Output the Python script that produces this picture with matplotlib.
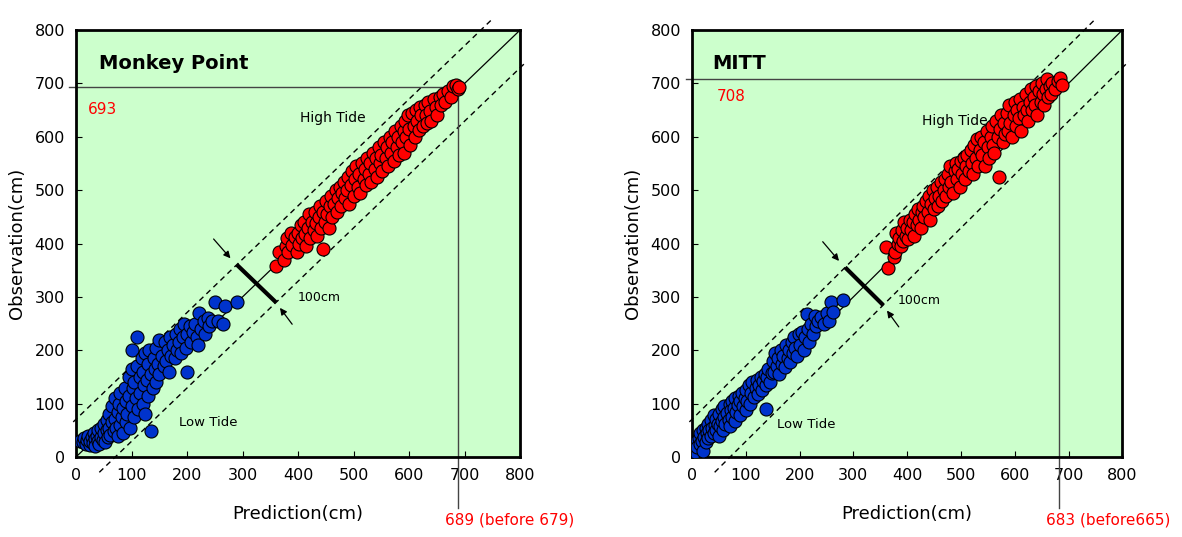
import matplotlib
matplotlib.use("Agg")
import matplotlib.pyplot as plt

# Monkey Point: (prediction, observation) in cm
mp_low_pred = [8, 12, 15, 18, 20, 22, 25, 25, 28, 30, 32, 35, 35, 38, 40, 40, 42, 45, 45, 48,
               50, 50, 52, 55, 55, 58, 60, 60, 62, 65, 65, 68, 70, 70, 72, 75, 75, 78, 80, 80,
               82, 85, 85, 88, 90, 90, 92, 95, 95, 98, 100, 100, 100, 102, 105, 105, 108, 110, 110, 112,
               115, 115, 118, 120, 120, 122, 125, 125, 128, 130, 130, 132, 135, 135, 138, 140, 142, 145, 145, 148,
               150, 150, 155, 158, 160, 162, 165, 168, 170, 172, 175, 178, 180, 182, 185, 188, 190, 192, 195, 198,
               200, 200, 205, 208, 210, 215, 218, 220, 222, 225, 230, 232, 238, 240, 245, 250, 255, 265, 268, 290]
mp_low_obs = [30, 28, 35, 25, 32, 40, 22, 30, 38, 27, 45, 33, 20, 40, 30, 50, 25, 38, 55, 32,
              45, 62, 28, 50, 70, 38, 55, 80, 42, 65, 95, 48, 72, 110, 55, 85, 40, 100, 60, 120,
              75, 92, 45, 130, 65, 105, 80, 150, 115, 55, 95, 200, 165, 130, 75, 140, 110, 225, 170, 90,
              150, 120, 185, 100, 160, 135, 195, 80, 145, 175, 115, 200, 48, 155, 130, 185, 165, 205, 140, 175,
              220, 155, 190, 170, 215, 180, 200, 160, 225, 190, 210, 185, 230, 200, 215, 240, 195, 225, 250, 205,
              230, 160, 245, 215, 235, 250, 225, 210, 270, 240, 255, 230, 260, 245, 255, 290, 255, 250, 282, 290]

mp_high_pred = [360, 365, 375, 378, 380, 382, 388, 390, 395, 398, 400, 402, 405, 408, 410, 412, 415, 418, 420, 422,
                425, 428, 430, 432, 435, 438, 440, 442, 445, 445, 448, 450, 452, 455, 458, 460, 462, 465, 468, 470,
                472, 475, 478, 480, 482, 485, 488, 490, 492, 495, 498, 500, 502, 505, 508, 510, 512, 515, 518, 520,
                522, 525, 528, 530, 532, 535, 538, 540, 542, 545, 548, 550, 552, 555, 558, 560, 562, 565, 568, 570,
                572, 575, 578, 580, 582, 585, 588, 590, 590, 592, 595, 598, 600, 602, 605, 608, 610, 612, 615, 618,
                620, 622, 625, 628, 630, 632, 635, 638, 640, 645, 648, 650, 655, 658, 662, 665, 670, 675, 680, 685,
                688, 690]
mp_high_obs = [358, 385, 370, 395, 410, 385, 420, 398, 412, 385, 420, 400, 435, 410, 440, 418, 395, 430, 455, 410,
               440, 425, 460, 438, 415, 450, 470, 430, 390, 460, 440, 480, 455, 430, 470, 490, 450, 475, 500, 460,
               485, 505, 470, 495, 515, 485, 500, 525, 475, 510, 535, 490, 520, 545, 505, 530, 495, 550, 520, 540,
               510, 560, 530, 550, 515, 570, 540, 560, 525, 580, 550, 565, 535, 590, 560, 580, 545, 600, 570, 590,
               555, 610, 580, 600, 565, 620, 590, 570, 610, 630, 600, 640, 615, 585, 645, 620, 600, 650, 630, 612,
               655, 640, 620, 660, 640, 625, 665, 648, 630, 670, 655, 640, 675, 660, 680, 665, 685, 675, 695, 698,
               690, 694]

# MITT: (prediction, observation) in cm
mt_low_pred = [3, 5, 8, 10, 12, 15, 15, 18, 20, 20, 22, 25, 25, 28, 30, 30, 32, 35, 35, 38,
               40, 40, 42, 45, 45, 48, 50, 50, 52, 55, 55, 58, 60, 60, 62, 65, 68, 70, 70, 72,
               75, 75, 78, 80, 80, 82, 85, 88, 90, 90, 92, 95, 98, 100, 100, 102, 105, 108, 110, 112,
               115, 118, 120, 122, 125, 128, 130, 132, 135, 138, 138, 140, 142, 145, 148, 150, 152, 155, 158, 160,
               162, 165, 168, 170, 172, 175, 178, 180, 182, 185, 188, 190, 192, 195, 198, 200, 205, 208, 210, 213,
               215, 218, 222, 225, 228, 230, 235, 240, 245, 250, 255, 258, 262, 280]
mt_low_obs = [20, 10, 28, 18, 35, 25, 45, 30, 12, 50, 38, 55, 28, 45, 62, 35, 50, 40, 70, 55,
              45, 78, 60, 50, 72, 62, 40, 80, 58, 68, 90, 50, 75, 95, 62, 82, 70, 100, 58, 88,
              75, 105, 92, 68, 110, 85, 98, 115, 78, 105, 120, 95, 110, 125, 88, 105, 135, 100, 120, 140,
              112, 130, 145, 118, 135, 150, 125, 142, 155, 90, 135, 150, 165, 140, 158, 180, 160, 195, 170, 185,
              155, 200, 175, 190, 168, 210, 185, 200, 178, 215, 195, 225, 205, 190, 230, 210, 235, 200, 225, 268,
              240, 215, 250, 230, 265, 245, 255, 262, 250, 270, 255, 290, 272, 295]

mt_high_pred = [360, 365, 375, 378, 380, 382, 385, 388, 390, 392, 395, 398, 400, 402, 405, 408, 410, 412, 415, 418,
                420, 422, 425, 428, 430, 432, 435, 438, 440, 442, 445, 448, 450, 452, 455, 458, 460, 462, 465, 468,
                470, 472, 475, 478, 480, 482, 485, 488, 490, 492, 495, 498, 500, 502, 505, 508, 510, 512, 515, 518,
                520, 522, 525, 528, 530, 532, 535, 538, 540, 542, 545, 548, 550, 552, 555, 558, 560, 562, 565, 568,
                570, 572, 575, 578, 580, 582, 585, 588, 590, 592, 595, 598, 600, 602, 605, 608, 610, 612, 615, 618,
                620, 622, 625, 628, 630, 632, 635, 638, 640, 642, 645, 648, 650, 652, 655, 658, 660, 662, 665, 668,
                670, 675, 680, 685, 688]
mt_high_obs = [393, 355, 375, 385, 420, 400, 410, 395, 425, 405, 440, 415, 430, 408, 445, 425, 440, 415, 455, 435,
               465, 445, 430, 460, 470, 450, 480, 460, 490, 445, 475, 500, 465, 485, 505, 470, 490, 515, 480, 500,
               520, 490, 530, 505, 545, 515, 495, 535, 550, 520, 540, 505, 555, 530, 560, 520, 545, 565, 535, 575,
               550, 530, 585, 560, 595, 545, 575, 600, 565, 590, 545, 610, 580, 560, 600, 620, 585, 570, 630, 600,
               525, 615, 640, 590, 625, 605, 645, 610, 660, 625, 600, 640, 665, 620, 650, 635, 670, 610, 655, 640,
               680, 650, 630, 665, 690, 650, 675, 660, 695, 640, 685, 665, 700, 680, 660, 690, 708, 675, 695, 680,
               700, 690, 705, 710, 698]

LOW_COLOR = "#0033CC"
HIGH_COLOR = "#FF0000"
BG = "#CCFFCC"


def draw_panel(ax, title, low_pred, low_obs, high_pred, high_obs,
               max_obs, max_pred, before, low_xy, high_xy, bar_c, cm_xy):
    ax.set_facecolor(BG)
    ax.set_xlim(0, 800)
    ax.set_ylim(0, 800)
    ax.set_xticks(range(0, 801, 100))
    ax.set_yticks(range(0, 801, 100))
    ax.tick_params(direction="in", length=4, labelsize=11.5, pad=8)
    for s in ax.spines.values():
        s.set_linewidth(2)

    # 1:1 line and +/-50cm band (perpendicular width 100cm)
    off = 70.7
    ax.plot([0, 800], [0, 800], color="black", lw=0.9, zorder=1)
    ax.plot([-5, 750], [-5 + off, 750 + off], color="black", lw=1, ls=(0, (4, 3)),
            clip_on=False, zorder=1)
    ax.plot([42, 812], [42 - off, 812 - off], color="black", lw=1, ls=(0, (4, 3)),
            clip_on=False, zorder=1)

    ax.scatter(low_pred, low_obs, s=88, c=LOW_COLOR, edgecolors="black",
               linewidths=0.8, zorder=3)
    ax.scatter(high_pred, high_obs, s=88, c=HIGH_COLOR, edgecolors="black",
               linewidths=0.8, zorder=3)

    # maximum observed / predicted guide lines
    ax.plot([-12, max_pred], [max_obs, max_obs], color="#444444", lw=1,
            clip_on=False, zorder=2)
    ax.plot([max_pred, max_pred], [max_obs, -95], color="#444444", lw=1,
            clip_on=False, zorder=2)
    ax.text(max_pred - 25, -118, f"{max_pred} {before}", color="red", fontsize=11,
            ha="left", va="center", clip_on=False)

    # band width marker
    cx, cy = bar_c
    d = 35.4
    ax.plot([cx - d, cx + d], [cy + d, cy - d], color="black", lw=3, zorder=4,
            solid_capstyle="butt")
    ax.annotate("", xy=(cx - d - 8, cy + d + 8), xytext=(cx - d - 45, cy + d + 52),
                arrowprops=dict(arrowstyle="-|>", color="black", lw=0.9,
                                mutation_scale=10))
    ax.annotate("", xy=(cx + d + 4, cy - d - 6), xytext=(cx + d + 32, cy - d - 45),
                arrowprops=dict(arrowstyle="-|>", color="black", lw=0.9,
                                mutation_scale=10))
    ax.text(cm_xy[0], cm_xy[1], "100cm", fontsize=9, ha="left", va="center")

    ax.text(low_xy[0], low_xy[1], "Low Tide", fontsize=9.5, ha="left", va="center")
    ax.text(high_xy[0], high_xy[1], "High Tide", fontsize=10, ha="left", va="center")
    ax.text(title[1], 738, title[0], fontsize=14, fontweight="bold",
            ha="left", va="center")

    ax.set_xlabel("Prediction(cm)", fontsize=13, labelpad=16)
    ax.set_ylabel("Observation(cm)", fontsize=13, labelpad=6)


fig = plt.figure(figsize=(11.82, 5.37), dpi=100)
ax1 = fig.add_axes([0.0643, 0.149, 0.3757, 0.795])
ax2 = fig.add_axes([0.5855, 0.149, 0.3640, 0.795])

draw_panel(ax1, ("Monkey Point", 42), mp_low_pred, mp_low_obs, mp_high_pred, mp_high_obs,
           693, 689, "(before 679)", (185, 65), (403, 636), (325, 325), (400, 298))
ax1.text(22, 652, "693", color="red", fontsize=11, ha="left", va="center")

draw_panel(ax2, ("MITT", 38), mt_low_pred, mt_low_obs, mt_high_pred, mt_high_obs,
           708, 683, "(before665)", (158, 60), (428, 629), (320, 320), (383, 294))
ax2.text(46, 675, "708", color="red", fontsize=11, ha="left", va="center")

fig.savefig("out.png", dpi=100)
